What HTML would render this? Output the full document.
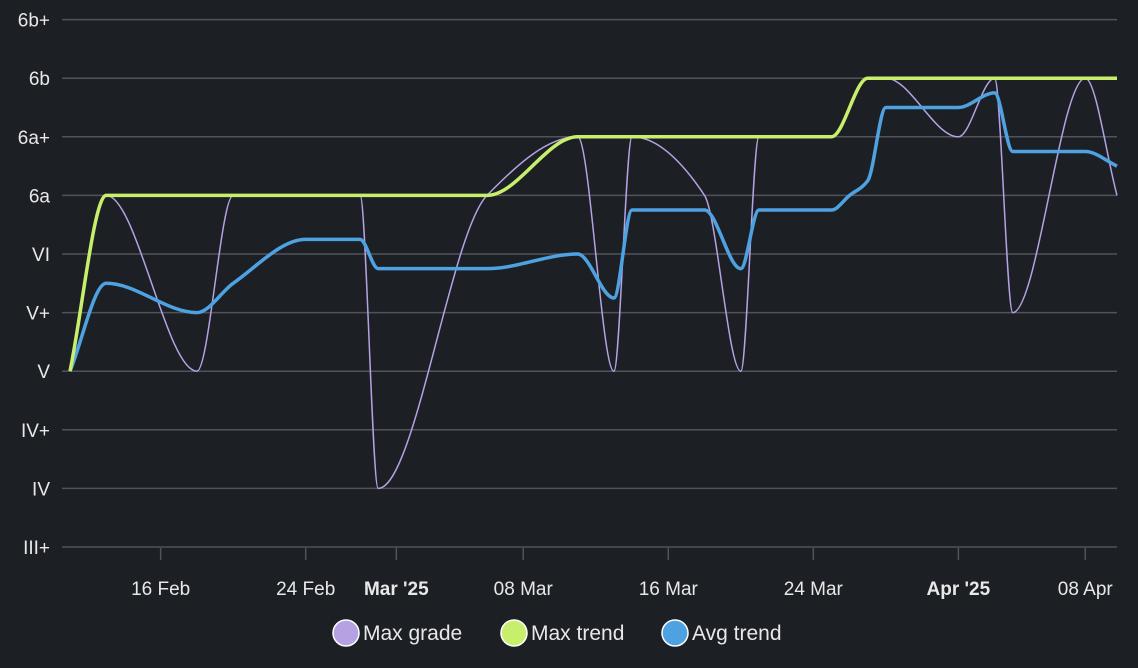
<!DOCTYPE html>
<html><head><meta charset="utf-8"><style>
body{margin:0;background:#1c1f23;font-family:"Liberation Sans",sans-serif;}
svg{display:block}
</style></head><body>
<svg id="chart" width="1138" height="668">
<rect width="1138" height="668" fill="#1c1f23"/>
<g id="grid"></g><g id="series"></g><g id="axes"></g><g id="legend"></g>
</svg>
<script>
const gradeLabels=["III+","IV","IV+","V","V+","VI","6a","6a+","6b","6b+"];
const xTickLabels=["16 Feb","24 Feb","Mar '25","08 Mar","16 Mar","24 Mar","Apr '25","08 Apr"];
const xTickDays=[5,13,18,25,33,41,49,56];
const xTickBold=[false,false,true,false,false,false,true,false];
const maxGradeDays=[0,2,7,9,16,17,23,28,30,31,35,37,38,42,44,45,49,51,52,56,57.75];
const maxGradeVals=[3,6,3,6,6,1,6,7,3,7,6,3,7,7,8,8,7,8,4,8,6];
const maxTrendDays=[0,2,23,28,42,44,57.75];
const maxTrendVals=[3,6,6,7,7,8,8];
const avgDays=[0,2,7,9,13,16,17,23,28,30,31,35,37,38,42,43,44,45,49,51,52,56,57.75];
const avgVals=[3,4.5,4.0,4.5,5.25,5.25,4.75,4.75,5.0,4.25,5.75,5.75,4.75,5.75,5.75,6.0,6.25,7.5,7.5,7.75,6.75,6.75,6.5];

const NS="http://www.w3.org/2000/svg";
const x0=70,pxDay=18.13;
function xs(d){return x0+d*pxDay;}
function ys(v){return 547-v*58.6;}
function mk(tag,attrs,parent){const e=document.createElementNS(NS,tag);for(const k in attrs)e.setAttribute(k,attrs[k]);parent.appendChild(e);return e;}
const grid=document.getElementById('grid'),axes=document.getElementById('axes'),ser=document.getElementById('series'),leg=document.getElementById('legend');
gradeLabels.forEach((g,i)=>{
 const l=mk('line',{x1:62,x2:1117,y1:ys(i),y2:ys(i),stroke:'#50545a','stroke-width':1.5},grid);
 
 
 const t=mk('text',{x:50,y:ys(i)+7,fill:'#e8e8e8','font-size':19,'text-anchor':'end'},axes);
 t.textContent=g;
 
 
});
xTickDays.forEach((d,i)=>{
 const l=mk('line',{x1:xs(d),x2:xs(d),y1:548,y2:560,stroke:'#50545a','stroke-width':1.5},axes);
 
 
 const t=mk('text',{x:xs(d),y:595,fill:'#e8e8e8','font-size':19,'text-anchor':'middle','font-weight':xTickBold[i]?'bold':'normal'},axes);
 t.textContent=xTickLabels[i];
 
 
});
function monotone(xa,ya){
 const n=xa.length,dx=[],s=[],m=[];
 for(let i=0;i<n-1;i++){dx[i]=xa[i+1]-xa[i];s[i]=(ya[i+1]-ya[i])/dx[i];}
 m[0]=s[0];m[n-1]=s[n-2];
 for(let i=1;i<n-1;i++){m[i]=(s[i-1]*s[i]<=0)?0:(3*(dx[i-1]+dx[i]))/((2*dx[i]+dx[i-1])/s[i-1]+(dx[i]+2*dx[i-1])/s[i]);}
 let p=`M${xa[0]},${ya[0]}`;
 for(let i=0;i<n-1;i++){const h=dx[i]/3;p+=` C${xa[i]+h},${ya[i]+m[i]*h} ${xa[i+1]-h},${ya[i+1]-m[i+1]*h} ${xa[i+1]},${ya[i+1]}`;}
 return p;
}
function drawLine(days,vals,color,w,name){
 const p=mk('path',{d:monotone(days.map(xs),vals.map(ys)),fill:'none',stroke:color,'stroke-width':w,'stroke-linejoin':'round'},ser);
 
 
}
drawLine(maxGradeDays,maxGradeVals,'#b4a2e4',1.5,'max-grade-line');
drawLine(avgDays,avgVals,'#4ea2e2',3.5,'avg-trend-line');
drawLine(maxTrendDays,maxTrendVals,'#c8ef6c',3.5,'max-trend-line');
const items=[["Max grade","#b4a2e4",332],["Max trend","#c8ef6c",500],["Avg trend","#4ea2e2",661]];
items.forEach(it=>{
 const g=mk('g',{},leg);
 
 
 mk('circle',{cx:it[2]+14,cy:633,r:13,fill:it[1],stroke:'#fff','stroke-width':1.5},g);
 const t=mk('text',{x:it[2]+31,y:640,fill:'#e8e8e8','font-size':21},g);
 t.textContent=it[0];
});
</script>
</body></html>
